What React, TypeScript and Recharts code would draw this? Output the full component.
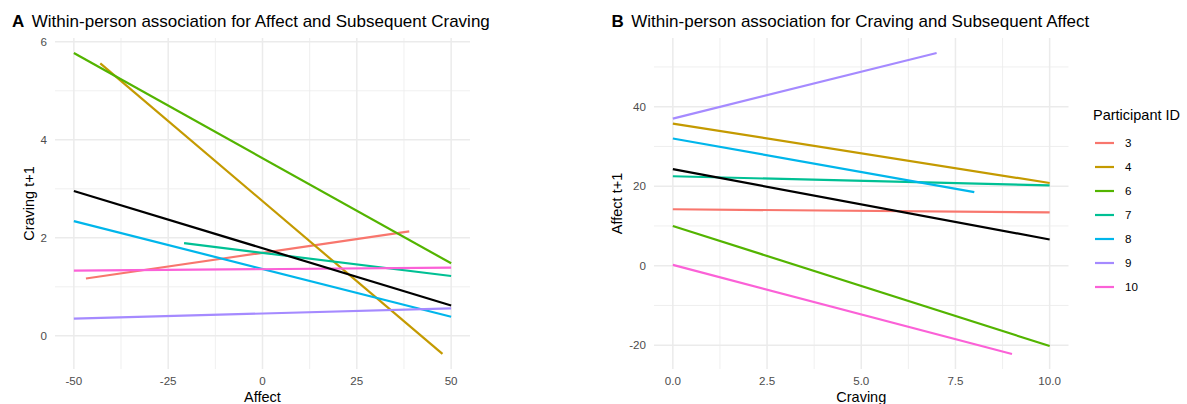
import { LineChart, Line, XAxis, YAxis, CartesianGrid } from 'recharts';

const participantIds = ['3', '4', '6', '7', '8', '9', '10'];
const participantColors = ['#F8766D', '#C49A00', '#53B400', '#00C094', '#00B6EB', '#A58AFF', '#FB61D7'];

// Panel A: Affect (x) -> Craving t+1 (y), fitted line end points per participant
const affectFrom = [-46.8, -43, -50, -20.8, -50, -50, -50];
const affectTo = [38.9, 47.7, 50, 50, 50, 50, 50];
const cravingNextFrom = [1.17, 5.56, 5.77, 1.89, 2.34, 0.35, 1.33];
const cravingNextTo = [2.13, -0.37, 1.48, 1.22, 0.39, 0.56, 1.39];
const overallAffect = [-50, 50];
const overallCravingNext = [2.955, 0.62];

// Panel B: Craving (x) -> Affect t+1 (y)
const cravingFrom = [0, 0, 0, 0, 0, 0, 0];
const cravingTo = [10, 10, 10, 10, 8, 7, 9];
const affectNextFrom = [14.2, 35.75, 10.0, 22.5, 32.0, 37.0, 0.2];
const affectNextTo = [13.4, 20.8, -20.2, 20.2, 18.5, 53.5, -22.2];
const overallCraving = [0, 10];
const overallAffectNext = [24.3, 6.6];

const affectTicks = [-50, -25, 0, 25, 50];
const affectMinor = [-37.5, -12.5, 12.5, 37.5];
const cravingNextTicks = [0, 2, 4, 6];
const cravingNextMinor = [1, 3, 5];
const cravingTicks = [0, 2.5, 5, 7.5, 10];
const cravingMinor = [1.25, 3.75, 6.25, 8.75];
const affectNextTicks = [-20, 0, 20, 40];
const affectNextMinor = [-10, 10, 30, 50];

const FONT = '"Liberation Sans", Arial, sans-serif';

type Pt = { x: number; y: number };

function segments(x0: number[], x1: number[], y0: number[], y1: number[]): Pt[][] {
  return x0.map((x, i) => [
    { x, y: y0[i] },
    { x: x1[i], y: y1[i] },
  ]);
}

// ggplot-style 5% expansion of the data range
function padded(values: number[]): [number, number] {
  const lo = Math.min(...values);
  const hi = Math.max(...values);
  const pad = (hi - lo) * 0.05;
  return [lo - pad, hi + pad];
}

interface PanelProps {
  width: number;
  yAxisWidth: number;
  right: number;
  lines: Pt[][];
  overall: Pt[];
  xTicks: number[];
  xMinor: number[];
  yTicks: number[];
  yMinor: number[];
  xLabel: string;
  yLabel: string;
  yLabelX: number;
  xFormat?: (v: number) => string;
}

function Panel(p: PanelProps) {
  const all = [...p.lines.flat(), ...p.overall];
  const xDomain = padded(all.map((d) => d.x));
  const yDomain = padded(all.map((d) => d.y));
  const tick = { fontSize: 11.6, fill: '#4D4D4D' };
  return (
    <LineChart width={p.width} height={404} margin={{ top: 38, right: p.right, bottom: 0, left: 0 }}>
      <CartesianGrid horizontalValues={p.yMinor} verticalValues={p.xMinor} stroke="#EBEBEB" strokeWidth={0.8} />
      <CartesianGrid horizontalValues={p.yTicks} verticalValues={p.xTicks} stroke="#EBEBEB" strokeWidth={1.5} />
      <XAxis
        type="number"
        dataKey="x"
        domain={xDomain}
        ticks={p.xTicks}
        allowDataOverflow
        height={35}
        tickLine={false}
        axisLine={false}
        tick={tick}
        tickFormatter={p.xFormat}
        label={{ value: p.xLabel, position: 'insideBottom', offset: 2, fill: '#000', fontSize: 14.5 }}
      />
      <YAxis
        type="number"
        dataKey="y"
        domain={yDomain}
        ticks={p.yTicks}
        allowDataOverflow
        width={p.yAxisWidth}
        tickLine={false}
        axisLine={false}
        tick={tick}
        label={{
          value: p.yLabel,
          angle: -90,
          position: 'insideLeft',
          offset: p.yLabelX,
          fill: '#000',
          fontSize: 14.5,
          style: { textAnchor: 'middle' },
        }}
      />
      {p.lines.map((seg, i) => (
        <Line
          key={participantIds[i]}
          data={seg}
          dataKey="y"
          stroke={participantColors[i]}
          strokeWidth={2.2}
          dot={false}
          activeDot={false}
          isAnimationActive={false}
        />
      ))}
      <Line data={p.overall} dataKey="y" stroke="#000" strokeWidth={2.2} dot={false} activeDot={false} isAnimationActive={false} />
    </LineChart>
  );
}

function Title({ left, letter, text }: { left: number; letter: string; text: string }) {
  return (
    <div style={{ position: 'absolute', left, top: 13, fontSize: 17, lineHeight: '17px', whiteSpace: 'nowrap' }}>
      <b>{letter}</b>
      <span style={{ marginLeft: 7.5 }}>{text}</span>
    </div>
  );
}

export default function App() {
  const linesA = segments(affectFrom, affectTo, cravingNextFrom, cravingNextTo);
  const overallA = segments([overallAffect[0]], [overallAffect[1]], [overallCravingNext[0]], [overallCravingNext[1]])[0];
  const linesB = segments(cravingFrom, cravingTo, affectNextFrom, affectNextTo);
  const overallB = segments([overallCraving[0]], [overallCraving[1]], [overallAffectNext[0]], [overallAffectNext[1]])[0];

  return (
    <div
      style={{
        position: 'absolute',
        left: 0,
        top: 0,
        width: 1187,
        height: 404,
        background: '#fff',
        fontFamily: FONT,
        color: '#000',
      }}
    >
      <Title left={12} letter="A" text="Within-person association for Affect and Subsequent Craving" />
      <Title left={611.5} letter="B" text="Within-person association for Craving and Subsequent Affect" />
      <div style={{ position: 'absolute', left: 0, top: 0 }}>
        <Panel
          width={500}
          yAxisWidth={55}
          right={30}
          lines={linesA}
          overall={overallA}
          xTicks={affectTicks}
          xMinor={affectMinor}
          yTicks={cravingNextTicks}
          yMinor={cravingNextMinor}
          xLabel="Affect"
          yLabel="Craving t+1"
          yLabelX={29}
        />
      </div>
      <div style={{ position: 'absolute', left: 590, top: 0 }}>
        <Panel
          width={597}
          yAxisWidth={64}
          right={118.5}
          lines={linesB}
          overall={overallB}
          xTicks={cravingTicks}
          xMinor={cravingMinor}
          yTicks={affectNextTicks}
          yMinor={affectNextMinor}
          xLabel="Craving"
          yLabel="Affect t+1"
          yLabelX={27}
          xFormat={(v) => v.toFixed(1)}
        />
      </div>
      <div style={{ position: 'absolute', left: 1093, top: 107, fontSize: 14.5, lineHeight: '17px' }}>Participant ID</div>
      {participantIds.map((id, i) => (
        <div
          key={id}
          style={{
            position: 'absolute',
            left: 1095,
            top: 142.7 + i * 24 - 8,
            height: 16,
            display: 'flex',
            alignItems: 'center',
            fontSize: 11.6,
            color: '#000',
          }}
        >
          <svg width={19} height={16} style={{ display: 'block' }}>
            <line x1={0} x2={19} y1={8} y2={8} stroke={participantColors[i]} strokeWidth={2.2} />
          </svg>
          <span style={{ marginLeft: 11 }}>{id}</span>
        </div>
      ))}
    </div>
  );
}
